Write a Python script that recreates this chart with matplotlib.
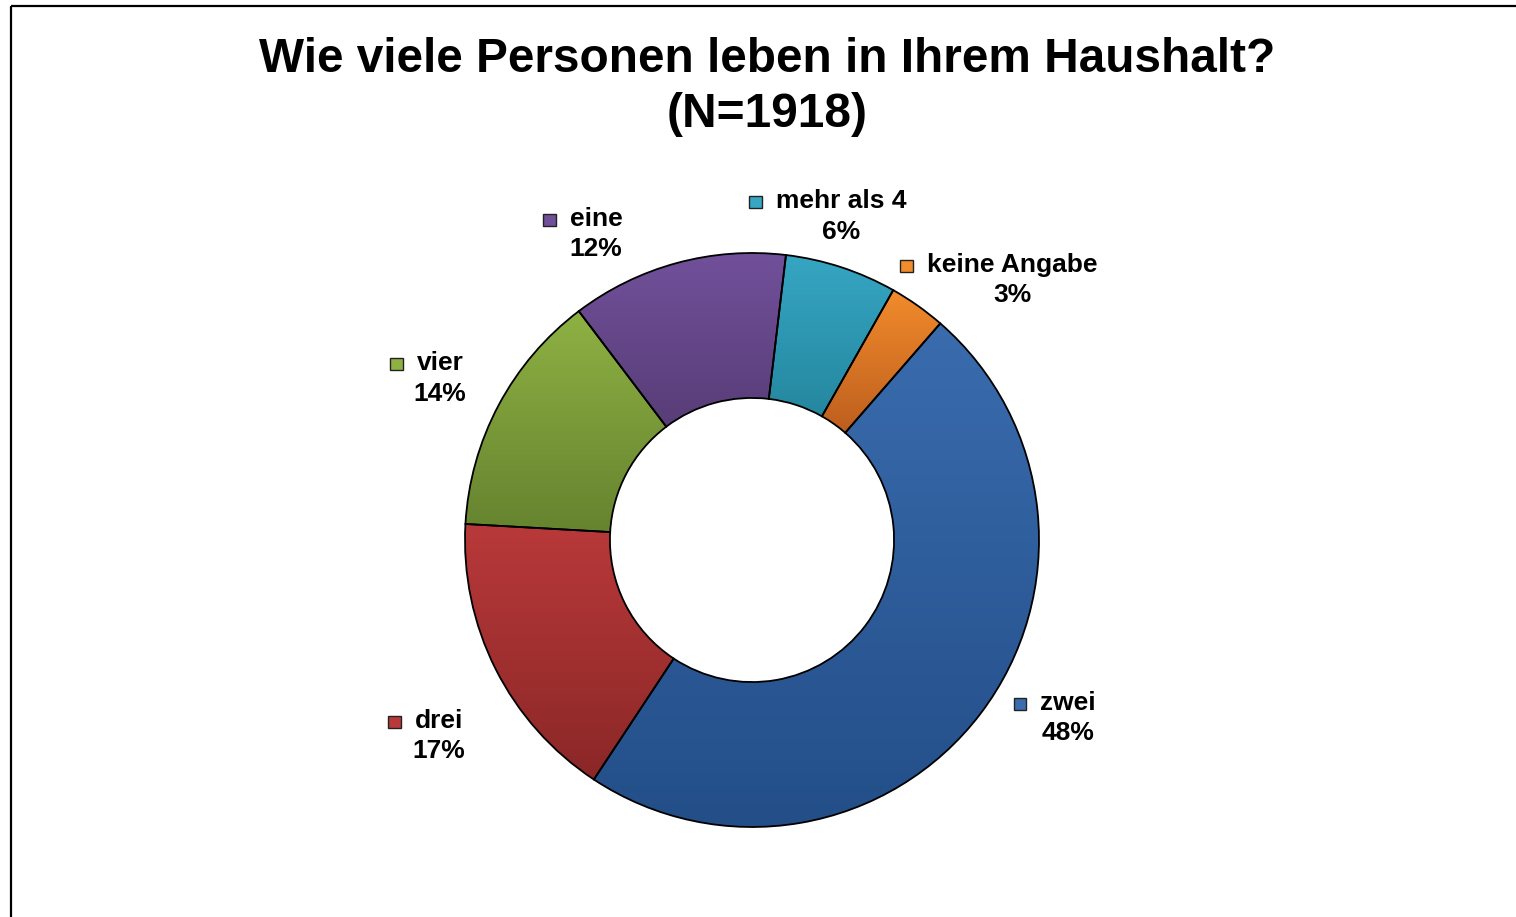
#!/usr/bin/env python3

import sys

import numpy as np
from matplotlib import pyplot, colors
from matplotlib.patches import Rectangle


TITLE = "Wie viele Personen leben in Ihrem Haushalt?"
SUBTITLE = "(N=1918)"

# clockwise, starting just right of 12 o'clock
CATEGORIES = ["mehr als 4", "keine Angabe", "zwei", "drei", "vier", "eine"]
SHARES = [6.3, 3.2, 47.9, 16.6, 13.8, 12.2]
PCT_LABELS = ["6%", "3%", "48%", "17%", "14%", "12%"]

# (top, bottom) of the Excel-like shade gradient
SLICE_COLOURS = [
    ('#36a6c3', '#25879f'),   # aqua
    ('#f28b2c', '#bd5e1e'),   # orange
    ('#3a6cae', '#234e88'),   # blue
    ('#b9393a', '#8b2727'),   # red
    ('#8eb143', '#66832f'),   # green
    ('#71509a', '#583d77'),   # purple
]

W, H = 1516, 917
CENTER = (752, H - 540)
RADIUS = 287
HOLE = 0.495

# label (name line centre x, name line y, percent line y) in pixels from top
LABEL_XY = [
    (841, 201, 232),
    (1012, 265, 295),
    (1068, 703, 733),
    (439, 721, 751),
    (440, 363, 394),
    (596, 219, 249),
]


def shade(ax, wedge, top, bottom):
    """Fill a wedge with a vertical gradient, clipped to its outline."""
    x0, y0, x1, y1 = wedge.get_path().get_extents().extents
    t = np.linspace(0, 1, 256)[:, None]
    c0 = np.array(colors.to_rgb(bottom))
    c1 = np.array(colors.to_rgb(top))
    img = (c0 + (c1 - c0) * t)[:, None, :]
    im = ax.imshow(img, extent=[x0, x1, y0, y1], origin='lower',
                   aspect='auto', interpolation='bilinear', zorder=0.5)
    im.set_clip_path(wedge)


def plot():
    figure = pyplot.figure(figsize=(W / 100, H / 100), dpi=100)
    axes = figure.add_axes([0, 0, 1, 1])

    wedges, _ = axes.pie(
        SHARES, center=CENTER, radius=RADIUS,
        startangle=90 - 6.8, counterclock=False,
        wedgeprops=dict(width=RADIUS * (1 - HOLE), facecolor='none',
                        edgecolor='black', linewidth=1.3, zorder=2),
    )
    for wedge, (top, bottom) in zip(wedges, SLICE_COLOURS):
        shade(axes, wedge, top, bottom)

    axes.set_xlim(0, W)
    axes.set_ylim(0, H)
    axes.set_aspect('equal')
    axes.axis('off')

    # Frame (only top and left edges are visible in the original crop)
    axes.plot([10.5, W], [H - 5.5, H - 5.5], color='black', lw=1.6,
              solid_capstyle='butt', clip_on=False)
    axes.plot([10.5, 10.5], [H - 5.5, 0], color='black', lw=1.6,
              solid_capstyle='butt', clip_on=False)

    font = dict(family=['Liberation Sans', 'DejaVu Sans'], weight='bold')
    axes.text(767, H - 72, TITLE, ha='center', va='baseline',
              fontsize=34.4, **font)
    axes.text(767, H - 127, SUBTITLE, ha='center', va='baseline',
              fontsize=34.4, **font)

    # Data labels
    names = []
    for name, pct, (x, y1, y2) in zip(CATEGORIES, PCT_LABELS, LABEL_XY):
        t = axes.text(x, H - y1, name, ha='center', va='center',
                      fontsize=19, **font)
        axes.text(x, H - y2, pct, ha='center', va='center',
                  fontsize=19, **font)
        names.append(t)

    # Legend keys in front of the category names
    figure.canvas.draw()
    renderer = figure.canvas.get_renderer()
    inv = axes.transData.inverted()
    size = 12.5
    for t, (top, _), (x, y1, _) in zip(names, SLICE_COLOURS, LABEL_XY):
        bb = t.get_window_extent(renderer).transformed(inv)
        axes.add_patch(Rectangle((bb.x0 - 14 - size, H - y1 - size / 2 - 1),
                                 size, size, facecolor=top,
                                 edgecolor='#222222', linewidth=1.0,
                                 zorder=3, clip_on=False))

    figure.savefig("out.png", dpi=100)


def main() -> int:
    plot()
    return 0


if __name__ == '__main__':
    sys.exit(main())
